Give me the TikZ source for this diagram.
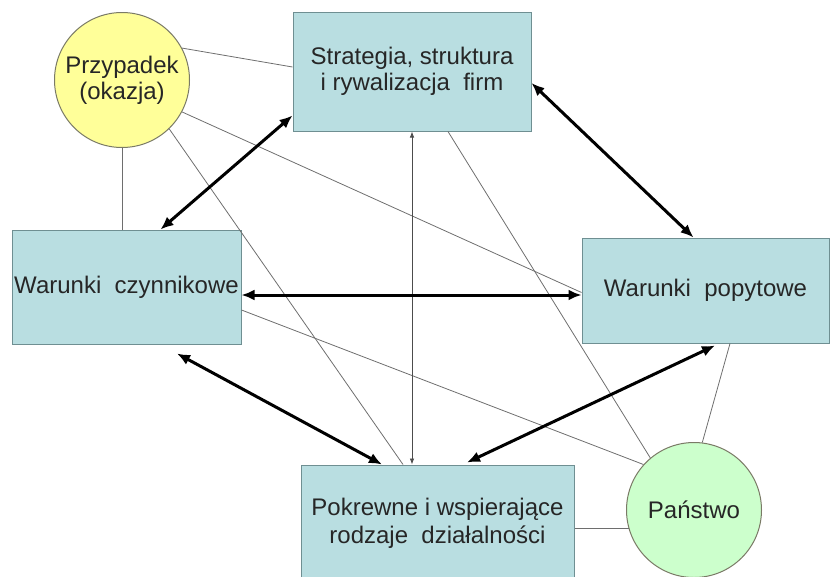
\documentclass[tikz,border=0pt]{standalone}
\usepackage{fontspec}
\setmainfont{Liberation Sans}
\usetikzlibrary{arrows.meta}
\definecolor{boxfill}{HTML}{B9DEE1}
\definecolor{boxline}{HTML}{6F8F92}
\definecolor{chancefill}{HTML}{FFFF99}
\definecolor{statefill}{HTML}{CCFFCC}
\definecolor{circline}{HTML}{7A7A66}
\definecolor{linkgray}{HTML}{6E6E6E}

\begin{document}
\begin{tikzpicture}[x=1pt, y=-1pt,
    every node/.style={font=\fontsize{24}{26}\selectfont, text=black!85},
    factor/.style={draw=boxline, fill=boxfill, line width=1pt, align=center, inner sep=0pt},
    outside/.style={circle, draw=circline, line width=1pt, align=center, inner sep=0pt, minimum size=135pt},
    link/.style={draw=linkgray, line width=0.8pt},
    thick arrow/.style={line width=3pt, {Latex[length=13pt,width=11pt]}-{Latex[length=13pt,width=11pt]}}]
    \useasboundingbox (0,0) rectangle (838,576);

    \node[factor, minimum width=238pt, minimum height=119pt] (strat) at (412,71.5)
        {Strategia, struktura\\i rywalizacja\ \ firm};
    \node[factor, minimum width=229pt, minimum height=114pt] (czynn) at (126.5,287)
        {Warunki\ \ czynnikowe};
    \node[factor, minimum width=247pt, minimum height=105pt] (popyt) at (705.5,290.5)
        {Warunki\ \ popytowe};
    \node[factor, minimum width=273pt, minimum height=116pt] (pokr) at (437.5,523)
        {Pokrewne i wspierające\\[2pt]rodzaje\ \ działalności};
    \node[outside, fill=chancefill] (przyp) at (122,80) {Przypadek\\(okazja)};
    \node[outside, fill=statefill] (panstwo) at (694,510) {Państwo};

    \draw[link] (przyp.28) -- ([yshift=4.5pt]strat.west);
    \draw[link] (przyp.south) -- (przyp.south |- czynn.north);
    \draw[link] (przyp.-28) -- ([yshift=-2pt]popyt.west);
    \draw[link] (przyp.-46) -- ([xshift=-34.5pt]pokr.north);
    \draw[link] ([xshift=36pt]strat.south) -- (panstwo.130);
    \draw[link] ([yshift=-23pt]czynn.east) -- (panstwo.138);
    \draw[link] ([xshift=24.5pt]popyt.south) -- (panstwo.83);
    \draw[link] (panstwo.196) -- (pokr.east |- panstwo.196);
    \draw[link, draw=black!70, {Latex[length=6pt,width=4.5pt]}-{Latex[length=6pt,width=4.5pt]}]
        (strat.south) -- (strat.south |- pokr.north);

    \draw[thick arrow] ([yshift=16pt]strat.south west) -- ([xshift=34pt]czynn.north);
    \draw[thick arrow] ([yshift=-11.5pt]strat.east) -- ([xshift=-12pt]popyt.north);
    \draw[thick arrow] ([yshift=-8pt]czynn.east) -- ([yshift=-4.5pt]popyt.west);
    \draw[thick arrow] ([xshift=50.5pt, yshift=-9pt]czynn.south) -- ([xshift=-55.5pt]pokr.north);
    \draw[thick arrow] ([xshift=29.5pt, yshift=2pt]pokr.north) -- ([xshift=9.5pt, yshift=-2pt]popyt.south);
\end{tikzpicture}
\end{document}
